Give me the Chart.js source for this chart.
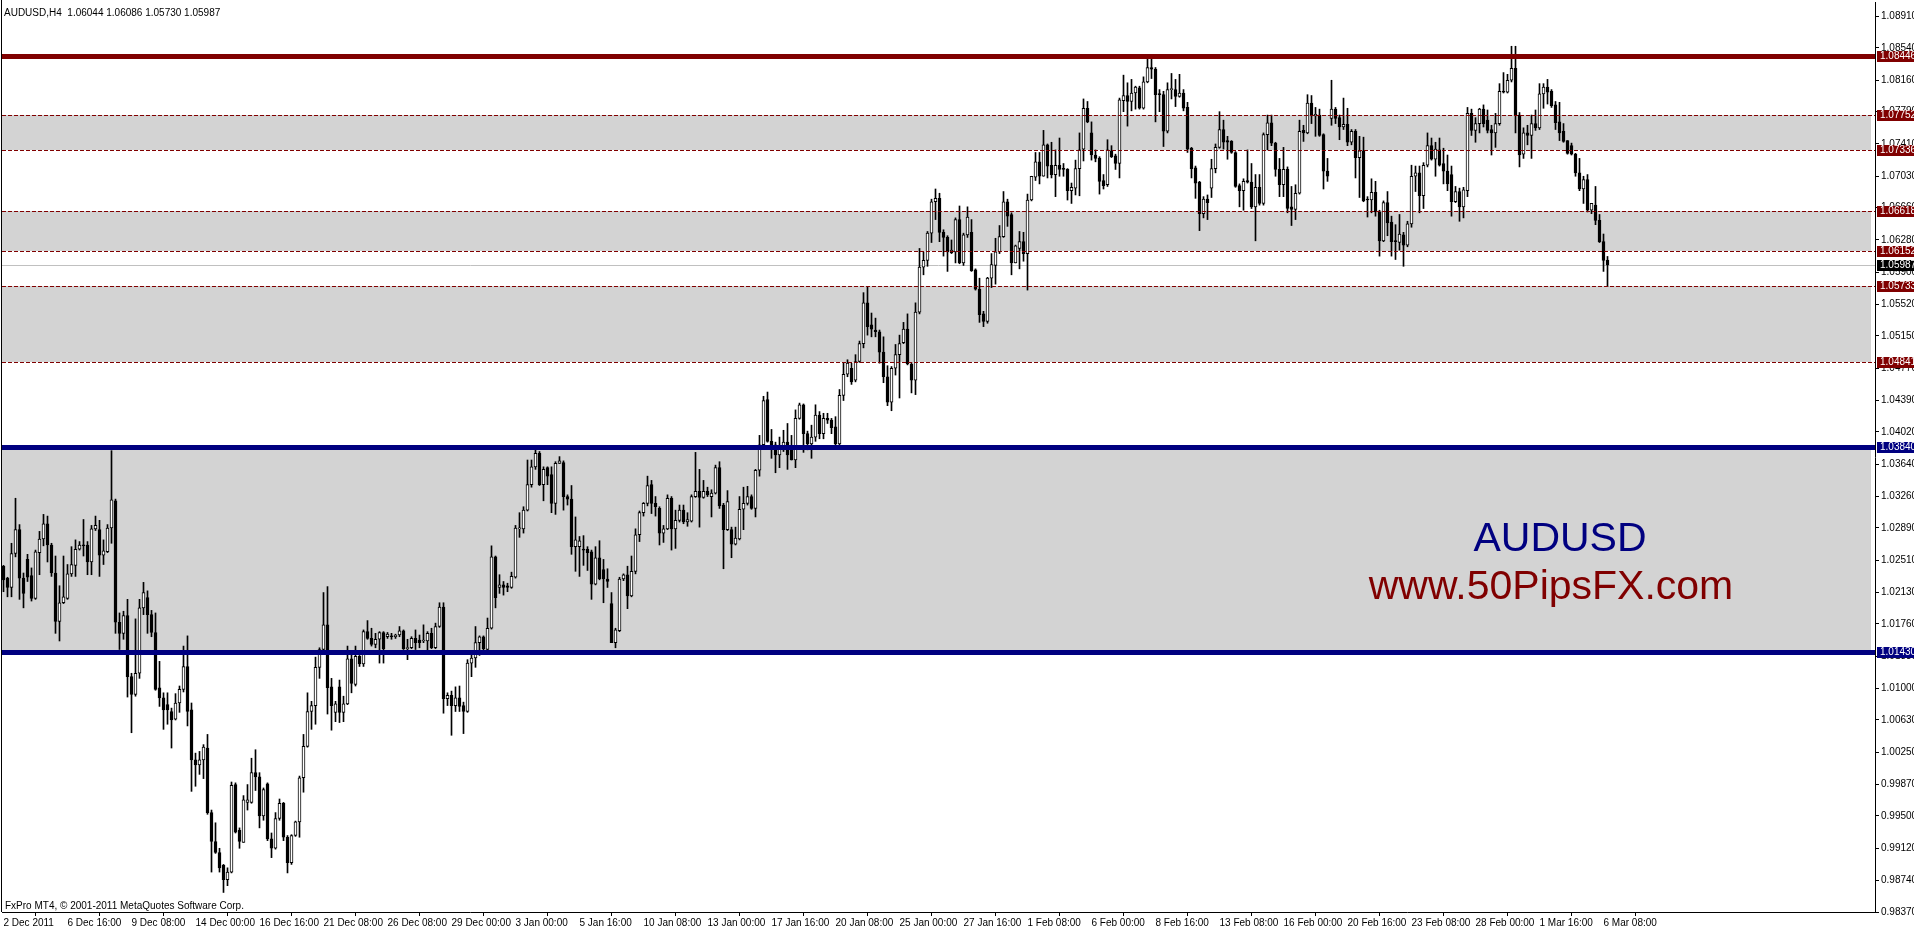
<!DOCTYPE html>
<html><head><meta charset="utf-8">
<script src="https://cdn.jsdelivr.net/npm/chart.js@4.4.1/dist/chart.umd.min.js"></script>
<style>html,body{margin:0;padding:0;background:#fff;overflow:hidden}canvas{display:block}</style>
</head><body>
<canvas id="c" width="1914" height="931"></canvas>
<script>
const headerText = 'AUDUSD,H4  1.06044 1.06086 1.05730 1.05987';
const footerText = 'FxPro MT4, \u00A9 2001-2011 MetaQuotes Software Corp.';
const symbolTitle = 'AUDUSD';
const siteTitle = 'www.50PipsFX.com';

const opens = [
1.0244,1.0230,1.0219,1.0259,1.0287,1.0230,1.0252,1.0233,1.0206,1.0260,
1.0276,1.0294,1.0269,1.0236,1.0179,1.0201,1.0206,1.0235,1.0245,1.0264,
1.0269,1.0269,1.0249,1.0288,1.0287,1.0257,1.0261,1.0289,1.0321,1.0178,
1.0165,1.0186,1.0114,1.0093,1.0118,1.0195,1.0207,1.0187,1.0166,1.0101,
1.0089,1.0081,1.0073,1.0064,1.0083,1.0099,1.0126,1.0075,1.0016,1.0010,
1.0016,1.0030,0.9954,0.9920,0.9907,0.9892,0.9875,0.9884,0.9987,0.9933,
0.9919,0.9966,0.9966,1.0001,0.9996,0.9950,0.9988,0.9923,0.9912,0.9947,
0.9965,0.9925,0.9895,0.9927,0.9943,0.9995,1.0032,1.0073,1.0080,1.0125,
1.0146,1.0175,1.0102,1.0072,1.0102,1.0072,1.0082,1.0135,1.0105,1.0138,
1.0129,1.0167,1.0159,1.0152,1.0158,1.0166,1.0161,1.0162,1.0161,1.0163,
1.0168,1.0147,1.0148,1.0159,1.0157,1.0156,1.0156,1.0165,1.0148,1.0173,
1.0196,1.0088,1.0092,1.0080,1.0089,1.0080,1.0073,1.0130,1.0136,1.0154,
1.0161,1.0146,1.0171,1.0255,1.0219,1.0222,1.0221,1.0219,1.0231,1.0288,
1.0288,1.0310,1.0340,1.0361,1.0377,1.0340,1.0360,1.0352,1.0318,1.0365,
1.0366,1.0326,1.0323,1.0267,1.0267,1.0264,1.0264,1.0261,1.0223,1.0254,
1.0240,1.0229,1.0200,1.0154,1.0168,1.0229,1.0234,1.0209,1.0238,1.0281,
1.0307,1.0318,1.0340,1.0318,1.0312,1.0283,1.0288,1.0324,1.0288,1.0298,
1.0310,1.0296,1.0297,1.0326,1.0332,1.0325,1.0332,1.0326,1.0330,1.0360,
1.0316,1.0287,1.0287,1.0270,1.0276,1.0311,1.0318,1.0326,1.0312,1.0357,
1.0387,1.0440,1.0391,1.0387,1.0375,1.0385,1.0390,1.0385,1.0369,1.0418,
1.0434,1.0400,1.0388,1.0396,1.0422,1.0400,1.0418,1.0416,1.0408,1.0388,
1.0445,1.0470,1.0477,1.0463,1.0485,1.0506,1.0554,1.0528,1.0522,1.0520,
1.0496,1.0467,1.0437,1.0477,1.0493,1.0507,1.0523,1.0482,1.0463,1.0543,
1.0596,1.0604,1.0636,1.0673,1.0677,1.0637,1.0631,1.0613,1.0614,1.0652,
1.0601,1.0634,1.0637,1.0593,1.0570,1.0541,1.0532,1.0583,1.0598,1.0614,
1.0632,1.0673,1.0658,1.0601,1.0618,1.0626,1.0612,1.0675,1.0702,1.0720,
1.0703,1.0740,1.0716,1.0705,1.0716,1.0712,1.0711,1.0686,1.0689,1.0712,
1.0735,1.0783,1.0754,1.0728,1.0724,1.0698,1.0693,1.0733,1.0727,1.0718,
1.0792,1.0798,1.0791,1.0801,1.0807,1.0783,1.0814,1.0831,1.0829,1.0800,
1.0799,1.0756,1.0805,1.0805,1.0797,1.0801,1.0784,1.0736,1.0713,1.0696,
1.0659,1.0676,1.0689,1.0712,1.0737,1.0758,1.0745,1.0744,1.0731,1.0692,
1.0686,1.0698,1.0696,1.0667,1.0690,1.0671,1.0752,1.0766,1.0742,1.0711,
1.0693,1.0711,1.0667,1.0664,1.0683,1.0757,1.0754,1.0789,1.0774,1.0775,
1.0752,1.0709,1.0771,1.0782,1.0772,1.0761,1.0764,1.0743,1.0756,1.0725,
1.0733,1.0676,1.0675,1.0684,1.0661,1.0627,1.0672,1.0649,1.0627,1.0625,
1.0634,1.0622,1.0647,1.0703,1.0707,1.0680,1.0716,1.0739,1.0723,1.0734,
1.0718,1.0709,1.0705,1.0673,1.0685,1.0667,1.0686,1.0777,1.0757,1.0765,
1.0782,1.0769,1.0758,1.0754,1.0765,1.0803,1.0802,1.0816,1.0830,1.0775,
1.0729,1.0754,1.0751,1.0765,1.0760,1.0800,1.0808,1.0803,1.0787,1.0767,
1.0756,1.0745,1.0739,1.0729,1.0707,1.0688,1.0699,1.0663,1.0669,1.0651,
1.0626,1.06044];

const highs = [
1.0245,1.0231,1.0271,1.0324,1.0293,1.0236,1.0258,1.0242,1.0263,1.0285,
1.0305,1.0303,1.0271,1.0256,1.0221,1.0256,1.0246,1.0267,1.0275,1.0273,
1.0299,1.0273,1.0292,1.0303,1.0298,1.0275,1.0293,1.0380,1.0323,1.0189,
1.0191,1.0205,1.0118,1.0182,1.0205,1.0225,1.0215,1.0192,1.0189,1.0132,
1.0095,1.0095,1.0077,1.0094,1.0103,1.0150,1.0162,1.0083,1.0024,1.0026,
1.0034,1.0046,0.9957,0.9942,0.9912,0.9893,0.9889,0.9990,0.9989,0.9936,
0.9974,0.9987,1.0018,1.0028,1.0001,0.9983,0.9989,0.9930,0.9954,0.9970,
0.9966,0.9927,0.9928,0.9944,0.9997,1.0046,1.0095,1.0085,1.0137,1.0148,
1.0213,1.0220,1.0112,1.0085,1.0110,1.0091,1.0150,1.0141,1.0150,1.0139,
1.0169,1.0180,1.0171,1.0165,1.0167,1.0167,1.0166,1.0165,1.0164,1.0173,
1.0169,1.0158,1.0161,1.0169,1.0163,1.0175,1.0167,1.0171,1.0177,1.0201,
1.0201,1.0095,1.0097,1.0102,1.0103,1.0084,1.0134,1.0141,1.0173,1.0162,
1.0162,1.0183,1.0268,1.0256,1.0234,1.0226,1.0224,1.0237,1.0292,1.0307,
1.0314,1.0369,1.0369,1.0382,1.0379,1.0361,1.0361,1.0361,1.0367,1.0373,
1.0368,1.0328,1.0339,1.0302,1.0279,1.0280,1.0267,1.0263,1.0267,1.0274,
1.0252,1.0241,1.0213,1.0171,1.0231,1.0235,1.0244,1.0256,1.0288,1.0309,
1.0319,1.0350,1.0345,1.0326,1.0314,1.0292,1.0328,1.0326,1.0310,1.0316,
1.0316,1.0307,1.0328,1.0378,1.0358,1.0345,1.0337,1.0334,1.0363,1.0367,
1.0318,1.0333,1.0290,1.0290,1.0326,1.0337,1.0338,1.0328,1.0358,1.0398,
1.0444,1.0449,1.0405,1.0390,1.0396,1.0404,1.0412,1.0398,1.0428,1.0436,
1.0435,1.0403,1.0410,1.0434,1.0426,1.0424,1.0424,1.0418,1.0420,1.0452,
1.0483,1.0487,1.0483,1.0493,1.0509,1.0566,1.0573,1.0542,1.0536,1.0522,
1.0514,1.0480,1.0479,1.0505,1.0516,1.0531,1.0541,1.0484,1.0554,1.0618,
1.0614,1.0638,1.0676,1.0688,1.0683,1.0640,1.0633,1.0628,1.0654,1.0668,
1.0636,1.0667,1.0652,1.0594,1.0583,1.0544,1.0584,1.0612,1.0630,1.0645,
1.0685,1.0676,1.0660,1.0622,1.0638,1.0637,1.0682,1.0703,1.0731,1.0731,
1.0757,1.0741,1.0743,1.0734,1.0748,1.0718,1.0712,1.0695,1.0722,1.0754,
1.0794,1.0791,1.0767,1.0734,1.0726,1.0705,1.0746,1.0739,1.0729,1.0795,
1.0822,1.0813,1.0817,1.0809,1.0809,1.0820,1.0841,1.0841,1.0831,1.0805,
1.0803,1.0813,1.0824,1.0817,1.0823,1.0805,1.0790,1.0737,1.0715,1.0697,
1.0679,1.0681,1.0723,1.0741,1.0779,1.0769,1.0750,1.0745,1.0732,1.0694,
1.0700,1.0734,1.0718,1.0705,1.0705,1.0754,1.0775,1.0775,1.0743,1.0724,
1.0737,1.0714,1.0691,1.0693,1.0769,1.0763,1.0799,1.0798,1.0784,1.0782,
1.0753,1.0724,1.0816,1.0784,1.0775,1.0795,1.0783,1.0758,1.0758,1.0750,
1.0749,1.0679,1.0700,1.0697,1.0663,1.0674,1.0685,1.0656,1.0646,1.0658,
1.0637,1.0650,1.0716,1.0715,1.0715,1.0719,1.0754,1.0748,1.0743,1.0748,
1.0736,1.0728,1.0715,1.0691,1.0689,1.0690,1.0784,1.0782,1.0772,1.0783,
1.0787,1.0781,1.0763,1.0777,1.0812,1.0825,1.0823,1.0856,1.0856,1.0778,
1.0760,1.0763,1.0775,1.0781,1.0812,1.0812,1.0817,1.0805,1.0791,1.0790,
1.0765,1.0745,1.0742,1.0730,1.0724,1.0703,1.0705,1.0671,1.0691,1.0658,
1.0635,1.06086];

const lows = [
1.0214,1.0208,1.0208,1.0255,1.0205,1.0195,1.0226,1.0203,1.0205,1.0234,
1.0268,1.0249,1.0232,1.0165,1.0156,1.0200,1.0205,1.0232,1.0232,1.0263,
1.0256,1.0234,1.0234,1.0286,1.0232,1.0246,1.0260,1.0271,1.0165,1.0146,
1.0158,1.0090,1.0048,1.0091,1.0112,1.0187,1.0165,1.0161,1.0098,1.0079,
1.0052,1.0058,1.0030,1.0063,1.0072,1.0096,1.0056,0.9979,0.9985,0.9999,
0.9994,0.9952,0.9884,0.9906,0.9884,0.9860,0.9868,0.9883,0.9930,0.9912,
0.9919,0.9957,0.9965,0.9980,0.9936,0.9945,0.9921,0.9901,0.9911,0.9945,
0.9921,0.9883,0.9893,0.9926,0.9925,0.9978,1.0031,1.0052,1.0058,1.0112,
1.0145,1.0070,1.0051,1.0061,1.0060,1.0061,1.0081,1.0095,1.0103,1.0126,
1.0126,1.0158,1.0150,1.0148,1.0130,1.0130,1.0159,1.0158,1.0159,1.0161,
1.0146,1.0134,1.0147,1.0146,1.0148,1.0154,1.0140,1.0147,1.0147,1.0172,
1.0071,1.0080,1.0045,1.0073,1.0073,1.0047,1.0072,1.0114,1.0125,1.0139,
1.0145,1.0145,1.0170,1.0195,1.0212,1.0210,1.0214,1.0218,1.0230,1.0278,
1.0283,1.0309,1.0337,1.0358,1.0339,1.0321,1.0340,1.0307,1.0305,1.0365,
1.0310,1.0316,1.0258,1.0238,1.0232,1.0245,1.0239,1.0205,1.0222,1.0228,
1.0201,1.0219,1.0154,1.0148,1.0167,1.0227,1.0194,1.0208,1.0235,1.0273,
1.0303,1.0315,1.0306,1.0303,1.0269,1.0272,1.0287,1.0263,1.0265,1.0296,
1.0294,1.0291,1.0296,1.0325,1.0290,1.0324,1.0326,1.0302,1.0329,1.0312,
1.0241,1.0286,1.0254,1.0269,1.0275,1.0287,1.0316,1.0311,1.0302,1.0350,
1.0385,1.0390,1.0371,1.0354,1.0360,1.0379,1.0358,1.0369,1.0360,1.0417,
1.0378,1.0381,1.0371,1.0391,1.0394,1.0394,1.0412,1.0400,1.0387,1.0387,
1.0439,1.0467,1.0458,1.0461,1.0484,1.0501,1.0516,1.0514,1.0514,1.0483,
1.0460,1.0433,1.0427,1.0469,1.0442,1.0506,1.0481,1.0448,1.0446,1.0541,
1.0587,1.0597,1.0625,1.0652,1.0626,1.0609,1.0591,1.0612,1.0601,1.0600,
1.0598,1.0631,1.0591,1.0569,1.0531,1.0526,1.0530,1.0572,1.0576,1.0612,
1.0631,1.0644,1.0587,1.0601,1.0594,1.0603,1.0569,1.0674,1.0698,1.0694,
1.0703,1.0701,1.0701,1.0679,1.0703,1.0703,1.0675,1.0671,1.0681,1.0680,
1.0721,1.0766,1.0722,1.0720,1.0682,1.0688,1.0691,1.0725,1.0711,1.0701,
1.0779,1.0762,1.0780,1.0782,1.0782,1.0782,1.0813,1.0818,1.0767,1.0779,
1.0738,1.0754,1.0794,1.0785,1.0796,1.0780,1.0731,1.0701,1.0677,1.0639,
1.0654,1.0652,1.0678,1.0707,1.0736,1.0735,1.0723,1.0730,1.0690,1.0667,
1.0663,1.0695,1.0665,1.0627,1.0669,1.0669,1.0734,1.0739,1.0703,1.0679,
1.0679,1.0660,1.0645,1.0652,1.0682,1.0744,1.0753,1.0765,1.0750,1.0750,
1.0688,1.0697,1.0763,1.0765,1.0746,1.0758,1.0739,1.0740,1.0701,1.0678,
1.0673,1.0655,1.0660,1.0656,1.0609,1.0626,1.0633,1.0609,1.0605,1.0616,
1.0597,1.0620,1.0643,1.0685,1.0660,1.0665,1.0714,1.0722,1.0703,1.0715,
1.0694,1.0686,1.0656,1.0672,1.0650,1.0654,1.0679,1.0751,1.0743,1.0754,
1.0761,1.0754,1.0728,1.0737,1.0763,1.0801,1.0801,1.0814,1.0754,1.0714,
1.0724,1.0740,1.0724,1.0757,1.0758,1.0783,1.0788,1.0784,1.0758,1.0745,
1.0743,1.0729,1.0728,1.0703,1.0686,1.0671,1.0661,1.0659,1.0646,1.0625,
1.0591,1.05730];

const closes = [
1.0228,1.0219,1.0259,1.0287,1.0230,1.0212,1.0231,1.0206,1.0261,1.0276,
1.0294,1.0269,1.0236,1.0179,1.0201,1.0208,1.0235,1.0246,1.0264,1.0269,
1.0268,1.0249,1.0288,1.0292,1.0257,1.0262,1.0289,1.0322,1.0178,1.0165,
1.0186,1.0114,1.0093,1.0118,1.0195,1.0213,1.0187,1.0166,1.0099,1.0089,
1.0075,1.0075,1.0063,1.0083,1.0099,1.0126,1.0073,1.0016,1.0010,1.0016,
1.0031,0.9954,0.9920,0.9907,0.9889,0.9875,0.9884,0.9986,0.9931,0.9920,
0.9969,0.9969,1.0001,0.9996,0.9950,0.9981,0.9923,0.9912,0.9947,0.9965,
0.9925,0.9895,0.9927,0.9943,0.9995,1.0032,1.0073,1.0080,1.0125,1.0146,
1.0175,1.0101,1.0080,1.0082,1.0072,1.0082,1.0135,1.0106,1.0138,1.0129,
1.0167,1.0159,1.0152,1.0158,1.0166,1.0147,1.0164,1.0161,1.0163,1.0168,
1.0147,1.0148,1.0159,1.0154,1.0154,1.0157,1.0165,1.0148,1.0173,1.0196,
1.0088,1.0092,1.0080,1.0089,1.0079,1.0073,1.0130,1.0136,1.0154,1.0161,
1.0147,1.0171,1.0255,1.0207,1.0222,1.0219,1.0219,1.0232,1.0289,1.0289,
1.0310,1.0340,1.0361,1.0377,1.0340,1.0358,1.0350,1.0318,1.0365,1.0368,
1.0326,1.0323,1.0267,1.0275,1.0274,1.0263,1.0260,1.0223,1.0254,1.0229,
1.0229,1.0226,1.0154,1.0169,1.0229,1.0234,1.0209,1.0238,1.0281,1.0307,
1.0318,1.0339,1.0318,1.0314,1.0283,1.0288,1.0324,1.0288,1.0298,1.0310,
1.0296,1.0299,1.0326,1.0332,1.0325,1.0332,1.0328,1.0330,1.0360,1.0315,
1.0287,1.0320,1.0270,1.0277,1.0311,1.0318,1.0326,1.0312,1.0357,1.0387,
1.0439,1.0391,1.0387,1.0375,1.0385,1.0390,1.0375,1.0369,1.0418,1.0434,
1.0400,1.0388,1.0396,1.0422,1.0400,1.0418,1.0416,1.0407,1.0388,1.0445,
1.0470,1.0483,1.0461,1.0485,1.0506,1.0554,1.0526,1.0523,1.0520,1.0496,
1.0467,1.0437,1.0477,1.0493,1.0506,1.0523,1.0482,1.0463,1.0543,1.0596,
1.0604,1.0636,1.0673,1.0677,1.0637,1.0631,1.0614,1.0616,1.0652,1.0601,
1.0634,1.0655,1.0592,1.0570,1.0540,1.0532,1.0583,1.0599,1.0614,1.0632,
1.0673,1.0656,1.0601,1.0621,1.0626,1.0612,1.0675,1.0703,1.0720,1.0703,
1.0740,1.0715,1.0705,1.0716,1.0711,1.0711,1.0686,1.0690,1.0712,1.0734,
1.0783,1.0767,1.0728,1.0724,1.0697,1.0692,1.0734,1.0726,1.0718,1.0793,
1.0798,1.0791,1.0801,1.0808,1.0783,1.0814,1.0831,1.0829,1.0799,1.0799,
1.0756,1.0805,1.0805,1.0797,1.0801,1.0783,1.0735,1.0712,1.0695,1.0659,
1.0676,1.0672,1.0712,1.0737,1.0758,1.0743,1.0743,1.0731,1.0691,1.0686,
1.0697,1.0696,1.0667,1.0690,1.0671,1.0752,1.0766,1.0742,1.0711,1.0693,
1.0711,1.0665,1.0664,1.0683,1.0756,1.0754,1.0789,1.0774,1.0776,1.0751,
1.0709,1.0703,1.0782,1.0771,1.0761,1.0764,1.0743,1.0756,1.0725,1.0733,
1.0674,1.0675,1.0684,1.0661,1.0627,1.0672,1.0648,1.0626,1.0626,1.0635,
1.0622,1.0647,1.0703,1.0707,1.0680,1.0716,1.0739,1.0723,1.0735,1.0716,
1.0709,1.0694,1.0673,1.0685,1.0667,1.0687,1.0777,1.0757,1.0765,1.0782,
1.0765,1.0757,1.0754,1.0765,1.0803,1.0802,1.0816,1.0830,1.0775,1.0728,
1.0754,1.0751,1.0765,1.0760,1.0800,1.0808,1.0802,1.0786,1.0766,1.0754,
1.0744,1.0730,1.0729,1.0707,1.0688,1.0699,1.0663,1.0671,1.0651,1.0626,
1.0604,1.05987];

const xTickBars = [0,16,32,48,64,80,96,112,128,144,160,176,192,208,224,240,256,272,288,304,320,336,352,368,384,400];
const xTickLabels = ['2 Dec 2011','6 Dec 16:00','9 Dec 08:00','14 Dec 00:00','16 Dec 16:00','21 Dec 08:00','26 Dec 08:00','29 Dec 00:00','3 Jan 00:00','5 Jan 16:00','10 Jan 08:00','13 Jan 00:00','17 Jan 16:00','20 Jan 08:00','25 Jan 00:00','27 Jan 16:00','1 Feb 08:00','6 Feb 00:00','8 Feb 16:00','13 Feb 08:00','16 Feb 00:00','20 Feb 16:00','23 Feb 08:00','28 Feb 00:00','1 Mar 16:00','6 Mar 08:00'];
const yTickLabels = ['1.08910','1.08540','1.08160','1.07790','1.07410','1.07030','1.06660','1.06280','1.05900','1.05520','1.05150','1.04770','1.04390','1.04020','1.03640','1.03260','1.02890','1.02510','1.02130','1.01760','1.01380','1.01000','1.00630','1.00250','0.99870','0.99500','0.99120','0.98740','0.98370'];

const zoneTops    = [1.07752, 1.06618, 1.05733, 1.03840];
const zoneBottoms = [1.07336, 1.06152, 1.04841, 1.01430];
const dashedLevels = [1.07752, 1.07336, 1.06618, 1.06152, 1.05733, 1.04841];
const redLevels = [1.08446];
const blueLevels = [1.03840, 1.01430];
const lastPrice = 1.05987;

const FONT = '"Liberation Sans", Arial, sans-serif';
const RED = '#800000', NAVY = '#000080';

const overlay = {
  id: 'overlay',
  beforeDatasetsDraw(chart) {
    const {ctx, chartArea: a, scales: {y}} = chart;
    ctx.save();
    ctx.fillStyle = '#d3d3d3';
    zoneTops.forEach((t, k) => {
      const y1 = Math.round(y.getPixelForValue(t));
      const y2 = Math.round(y.getPixelForValue(zoneBottoms[k]));
      ctx.fillRect(a.left, y1, a.right - 4 - a.left, y2 - y1);
    });
    ctx.strokeStyle = '#c0c0c0'; ctx.lineWidth = 1;
    const yp = Math.round(y.getPixelForValue(lastPrice)) + 0.5;
    ctx.beginPath(); ctx.moveTo(a.left, yp); ctx.lineTo(a.right, yp); ctx.stroke();
    ctx.restore();
  },
  afterDatasetsDraw(chart) {
    const {ctx, chartArea: a, scales: {y}} = chart;
    ctx.save();
    ctx.strokeStyle = RED; ctx.lineWidth = 1; ctx.setLineDash([4, 2]);
    dashedLevels.forEach(v => {
      const yy = Math.round(y.getPixelForValue(v)) + 0.5;
      ctx.beginPath(); ctx.moveTo(a.left, yy); ctx.lineTo(a.right, yy); ctx.stroke();
    });
    ctx.setLineDash([]); ctx.lineWidth = 5;
    ctx.strokeStyle = RED;
    redLevels.forEach(v => {
      const yy = Math.round(y.getPixelForValue(v)) + 0.5;
      ctx.beginPath(); ctx.moveTo(a.left, yy); ctx.lineTo(a.right, yy); ctx.stroke();
    });
    ctx.strokeStyle = NAVY;
    blueLevels.forEach(v => {
      const yy = Math.round(y.getPixelForValue(v)) + 0.5;
      ctx.beginPath(); ctx.moveTo(a.left, yy); ctx.lineTo(a.right, yy); ctx.stroke();
    });
    ctx.textAlign = 'center'; ctx.textBaseline = 'alphabetic';
    ctx.font = '41px ' + FONT;
    ctx.fillStyle = NAVY; ctx.fillText(symbolTitle, 1560, 551);
    ctx.fillStyle = RED; ctx.fillText(siteTitle, 1551, 599);
    ctx.restore();
  },
  afterDraw(chart) {
    const {ctx, chartArea: a, scales: {y}} = chart;
    ctx.save();
    ctx.font = '10px ' + FONT;
    ctx.textBaseline = 'middle'; ctx.textAlign = 'left';
    const box = (v, col) => {
      const yy = Math.round(y.getPixelForValue(v));
      ctx.fillStyle = col; ctx.fillRect(1877, yy - 5, 37, 11);
      ctx.fillStyle = '#fff'; ctx.fillText(v.toFixed(5), 1880, yy + 0.5);
    };
    dashedLevels.forEach(v => box(v, RED));
    redLevels.forEach(v => box(v, RED));
    blueLevels.forEach(v => box(v, NAVY));
    box(lastPrice, '#000');
    ctx.strokeStyle = '#000'; ctx.lineWidth = 1;
    ctx.beginPath(); ctx.moveTo(1.5, 0); ctx.lineTo(1.5, a.bottom); ctx.stroke();
    ctx.fillStyle = '#000'; ctx.textBaseline = 'alphabetic';
    ctx.fillText(headerText, 4, 16);
    ctx.fillText(footerText, 5, 909);
    ctx.restore();
  }
};

const chart = new Chart(document.getElementById('c'), {
  type: 'bar',
  data: {
    datasets: [
      {
        label: 'wick',
        data: highs.map((h, i) => ({x: i, y: [lows[i], h]})),
        backgroundColor: '#000', borderWidth: 0,
        barThickness: 1, grouped: false, order: 2
      },
      {
        label: 'body',
        data: opens.map((o, i) => ({x: i, y: [o, closes[i]]})),
        backgroundColor: opens.map((o, i) => closes[i] >= o ? '#fff' : '#000'),
        borderColor: '#000', borderWidth: 1, borderSkipped: false,
        barThickness: 3, minBarLength: 1, grouped: false, order: 1
      }
    ]
  },
  options: {
    responsive: false, animation: false, events: [], devicePixelRatio: 1,
    layout: {padding: {left: 2, top: 2, right: 0, bottom: 0}, autoPadding: false},
    plugins: {legend: {display: false}, tooltip: {enabled: false}},
    scales: {
      x: {
        type: 'linear', position: 'bottom', min: -0.375, max: 467.875, offset: false,
        afterBuildTicks: s => { s.ticks = xTickBars.map(v => ({value: v})); },
        afterFit: s => { s.height = 19; s.paddingLeft = 0; s.paddingRight = 0; },
        ticks: {
          autoSkip: false, maxRotation: 0, minRotation: 0, align: 'start', padding: 1,
          font: {family: FONT, size: 10}, color: '#000',
          callback: v => { const k = xTickBars.indexOf(v); return k >= 0 ? xTickLabels[k] : ''; }
        },
        grid: {drawOnChartArea: false, drawTicks: true, tickLength: 4, color: '#000'},
        border: {display: true, color: '#000'}
      },
      y: {
        type: 'linear', position: 'right', min: 0.98370, max: 1.09081,
        afterBuildTicks: s => { s.ticks = yTickLabels.map(t => ({value: parseFloat(t)})); },
        afterFit: s => { s.width = 39; s.paddingTop = 0; s.paddingBottom = 0; },
        ticks: {
          padding: 2, font: {family: FONT, size: 10}, color: '#000',
          callback: v => v.toFixed(5)
        },
        grid: {drawOnChartArea: false, drawTicks: true, tickLength: 4, color: '#000'},
        border: {display: true, color: '#000'}
      }
    }
  },
  plugins: [overlay]
});
</script>
</body></html>
